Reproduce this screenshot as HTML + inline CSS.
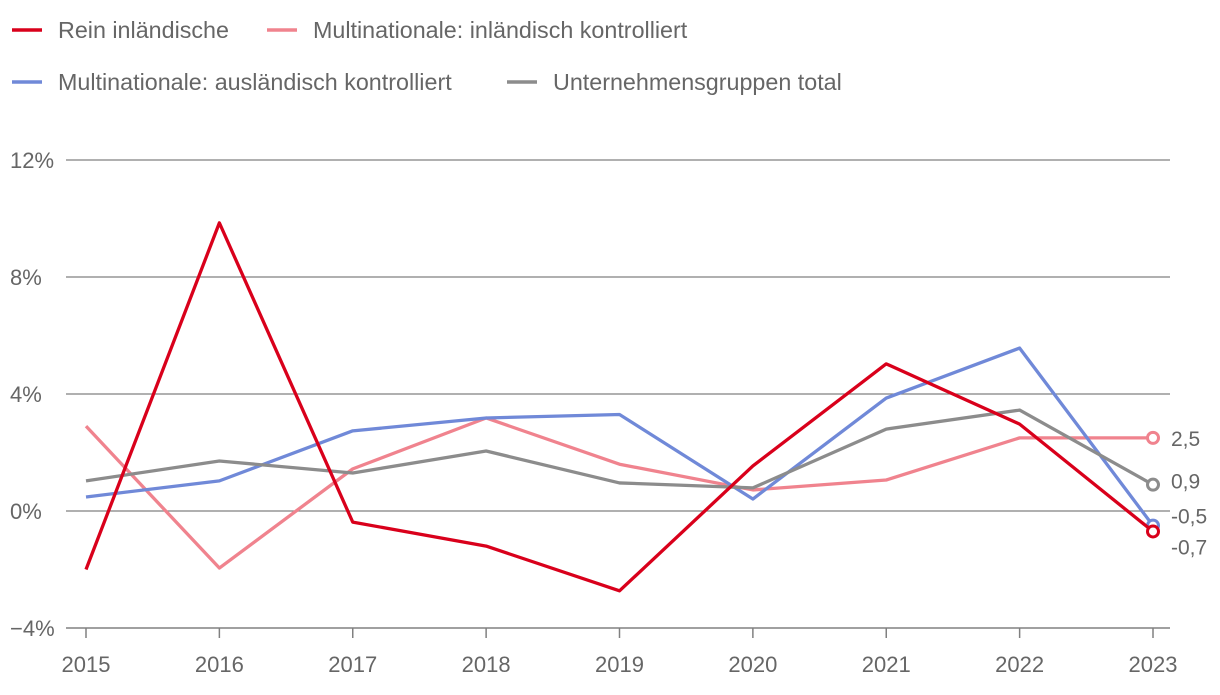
<!DOCTYPE html>
<html><head><meta charset="utf-8"><style>
body{margin:0;background:#fff;font-family:"Liberation Sans",sans-serif;}
svg text{font-family:"Liberation Sans",sans-serif;fill:#666;}
</style></head><body>
<svg id="chart" width="1220" height="690" xmlns="http://www.w3.org/2000/svg">
<g id="legend">
<g><line x1="12" y1="30" x2="42" y2="30" stroke="#d9001b" stroke-width="3.5"/><text x="58" y="38" font-size="23.3">Rein inländische</text></g>
<g><line x1="267" y1="30" x2="297" y2="30" stroke="#f0838e" stroke-width="3.5"/><text x="313" y="38" font-size="23.3">Multinationale: inländisch kontrolliert</text></g>
<g><line x1="12" y1="82" x2="42" y2="82" stroke="#7089d8" stroke-width="3.5"/><text x="58" y="90" font-size="23.3">Multinationale: ausländisch kontrolliert</text></g>
<g><line x1="507" y1="82" x2="537" y2="82" stroke="#8c8c8c" stroke-width="3.5"/><text x="553" y="90" font-size="23.3">Unternehmensgruppen total</text></g>
</g>
<g id="grid"></g><g id="series"></g><g id="labels"></g>
</svg>
<script>
const years=["2015","2016","2017","2018","2019","2020","2021","2022","2023"];
const yTicks=[-4,0,4,8,12];
const rein=[-2.0,9.85,-0.38,-1.2,-2.73,1.54,5.03,2.97,-0.7];
const multiInland=[2.9,-1.95,1.44,3.18,1.6,0.72,1.06,2.5,2.5];
const multiAusland=[0.48,1.03,2.74,3.18,3.3,0.41,3.86,5.57,-0.5];
const total=[1.03,1.71,1.3,2.05,0.96,0.79,2.8,3.45,0.9];
const endLabels=["-0,7","2,5","-0,5","0,9"];
const NS="http://www.w3.org/2000/svg";
const x=i=>86+i*(1153-86)/(years.length-1);
const y=v=>511-v*29.25;
function mk(tag,attrs,parent){const e=document.createElementNS(NS,tag);for(const k in attrs)e.setAttribute(k,attrs[k]);parent.appendChild(e);return e;}
const grid=document.getElementById('grid');
yTicks.forEach(t=>{
 const l=mk('line',{x1:66,x2:1170,y1:y(t),y2:y(t),stroke:'#808080','stroke-width':t===-4?1.6:1.3},grid);
 
 
 const tx=mk('text',{x:10,y:y(t)+8,'font-size':22},grid);tx.textContent=(t<0?'−'+Math.abs(t):t)+'%';
 
 
});
years.forEach((yr,i)=>{
 const tk=mk('line',{x1:x(i),x2:x(i),y1:628,y2:638,stroke:'#808080','stroke-width':1.5},grid);
 
 
 const tx=mk('text',{x:x(i),y:672,'font-size':22,'text-anchor':'middle'},grid);tx.textContent=yr;
 
 
});
const series=[[multiInland,'#f0838e','series-multi-inland'],[multiAusland,'#7089d8','series-multi-ausland'],[total,'#8c8c8c','series-total'],[rein,'#d9001b','series-rein']];
const sg=document.getElementById('series');
series.forEach(([d,c,n])=>{
 const p=mk('polyline',{points:d.map((v,i)=>x(i)+','+y(v)).join(' '),fill:'none',stroke:c,'stroke-width':3.3,'stroke-linejoin':'round'},sg);
 
 
 const cc=mk('circle',{cx:x(d.length-1),cy:y(d[d.length-1]),r:5.5,fill:'#fff',stroke:c,'stroke-width':3},sg);
 
 
});
const lg=document.getElementById('labels');
const endSeries=[rein,multiInland,multiAusland,total];
const offsets=[15,0,-10,-4];
endSeries.forEach((d,k)=>{
 const t=mk('text',{x:1171,y:y(d[d.length-1])+8+offsets[k],'font-size':21,fill:'#333'},lg);t.textContent=endLabels[k];
 
 
});
</script>
</body></html>
